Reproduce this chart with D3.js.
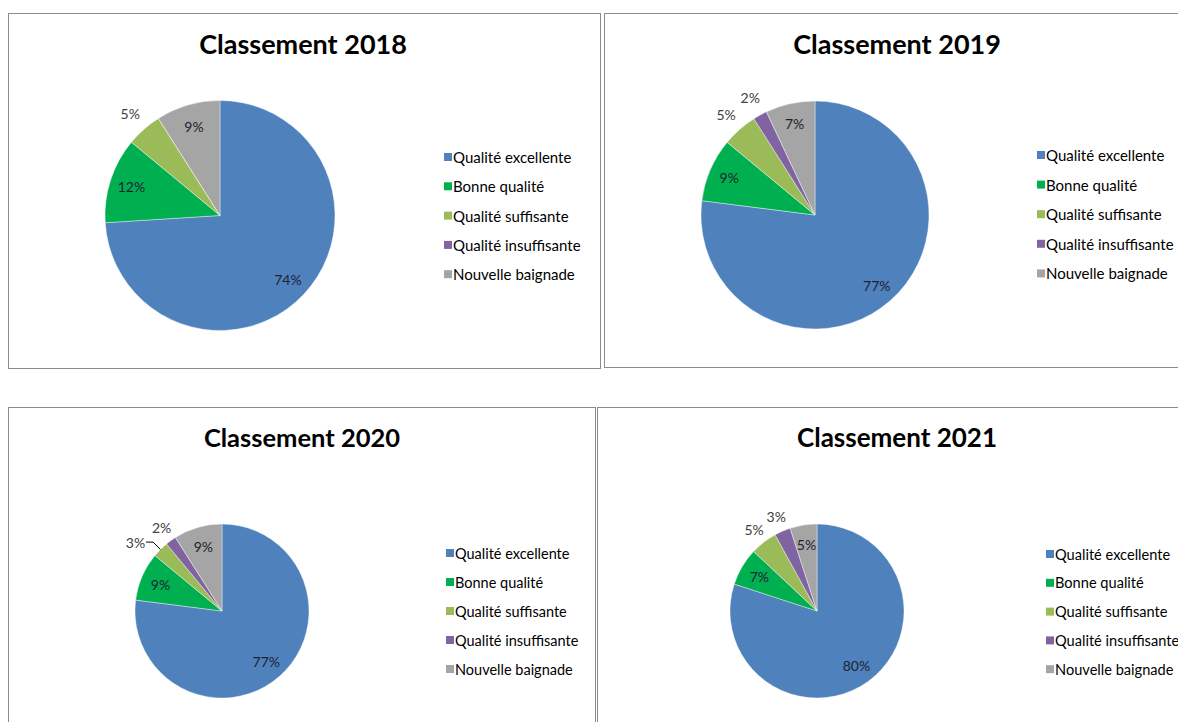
<!DOCTYPE html>
<html><head><meta charset="utf-8">
<script src="https://cdn.jsdelivr.net/npm/d3@7"></script>
<style>
html,body{margin:0;padding:0;background:#fff;}
svg{display:block;}
</style></head>
<body>
<svg id="chart" width="1178" height="722"></svg>
<script>
// ---- data ----
const categories = ["Qualité excellente", "Bonne qualité", "Qualité suffisante", "Qualité insuffisante", "Nouvelle baignade"];
const years = ["2018", "2019", "2020", "2021"];
const values2018 = [74, 12, 5, 0, 9];
const values2019 = [77, 9, 5, 2, 7];
const values2020 = [77, 9, 3, 2, 9];
const values2021 = [80, 7, 5, 3, 5];
const colors = ["#4F81BD", "#00B050", "#9BBB59", "#8064A2", "#A5A5A5"];
// label placement (Excel "best fit" result): 1 = outside end
const outside2018 = [0, 0, 1, 0, 0];
const outside2019 = [0, 0, 1, 1, 0];
const outside2020 = [0, 0, 1, 1, 0];
const outside2021 = [0, 0, 1, 1, 0];
const leader2020 = [0, 0, 1, 0, 0];

const seriesByYear = [values2018, values2019, values2020, values2021];
const outsideByYear = [outside2018, outside2019, outside2020, outside2021];
const leaderByYear = [null, null, leader2020, null];

// ---- layout ----
const panels = [
  {box:[8.5, 13.5, 592, 355], tx:303, ty:54, ts:27, cx:220, cy:215.5, r:115, lx:444, ly:157, ldy:29.3, lfs:15, inR:0.81},
  {box:[604.5, 13.5, 620, 354], tx:897, ty:54, ts:27, cx:815, cy:215, r:114, lx:1037, ly:155, ldy:29.6, lfs:15, inR:0.82},
  {box:[8.5, 407.5, 587, 340], tx:302, ty:447, ts:25.5, cx:222, cy:611, r:87, lx:446, ly:553, ldy:29, lfs:14.5, inR:0.77},
  {box:[597.5, 407.5, 620, 340], tx:897, ty:447, ts:26, cx:817, cy:611, r:87, lx:1046, ly:554, ldy:28.8, lfs:14.6, inR:0.77}
];
const FONT = "Lato, 'Open Sans', sans-serif";

const svg = d3.select("#chart");
const pie = d3.pie().sort(null).value(d => d);

panels.forEach((p, i) => {
  const vals = seriesByYear[i];
  const outs = outsideByYear[i];
  const leads = leaderByYear[i];
  const g = svg.append("g");
  g.append("rect").attr("x", p.box[0]).attr("y", p.box[1]).attr("width", p.box[2]).attr("height", p.box[3])
    .attr("fill", "#fff").attr("stroke", "#8c8c8c").attr("stroke-width", 1);
  g.append("text").attr("x", p.tx).attr("y", p.ty).attr("text-anchor", "middle")
    .attr("font-family", FONT).attr("font-weight", "bold").attr("font-size", p.ts).attr("fill", "#000")
    .text("Classement " + years[i]);

  const arcs = pie(vals);
  const arc = d3.arc().innerRadius(0).outerRadius(p.r);
  const pg = g.append("g").attr("transform", `translate(${p.cx},${p.cy})`);
  pg.selectAll("path").data(arcs).join("path")
    .attr("d", arc).attr("fill", (d, j) => colors[j])
    .attr("stroke", "#fff").attr("stroke-width", 0.4);

  arcs.forEach((d, j) => {
    if (d.data === 0) return;
    const mid = (d.startAngle + d.endAngle) / 2;
    const pt = (rr, a) => [Math.sin(a) * rr, -Math.cos(a) * rr];
    const label = d.data + "%";
    if (leads && leads[j]) {
      const e = pt(p.r, mid), k = pt(p.r * 1.12, mid);
      pg.append("polyline").attr("points", [e, k, [k[0] - 7, k[1]]].map(q => q.join(",")).join(" "))
        .attr("fill", "none").attr("stroke", "#000").attr("stroke-width", 1);
      pg.append("text").attr("x", k[0] - 8).attr("y", k[1]).attr("text-anchor", "end")
        .attr("dominant-baseline", "central").attr("font-family", FONT).attr("font-size", 14).attr("fill", "#404040")
        .text(label);
    } else if (outs[j]) {
      const q = pt(p.r * 1.18, mid);
      pg.append("text").attr("x", q[0]).attr("y", q[1]).attr("text-anchor", "middle")
        .attr("dominant-baseline", "central").attr("font-family", FONT).attr("font-size", 14).attr("fill", "#404040")
        .text(label);
    } else {
      const q = pt(p.r * p.inR, mid);
      pg.append("text").attr("x", q[0]).attr("y", q[1]).attr("text-anchor", "middle")
        .attr("dominant-baseline", "central").attr("font-family", FONT).attr("font-size", 14).attr("fill", "#1d2330")
        .text(label);
    }
  });

  const lg = g.append("g");
  categories.forEach((c, j) => {
    const y = p.ly + j * p.ldy;
    lg.append("rect").attr("x", p.lx).attr("y", y - 4).attr("width", 8).attr("height", 8).attr("fill", colors[j]);
    lg.append("text").attr("x", p.lx + 9).attr("y", y).attr("dominant-baseline", "central")
      .attr("font-family", FONT).attr("font-size", p.lfs).attr("fill", "#000").text(c);
  });
});
</script>
</body></html>
